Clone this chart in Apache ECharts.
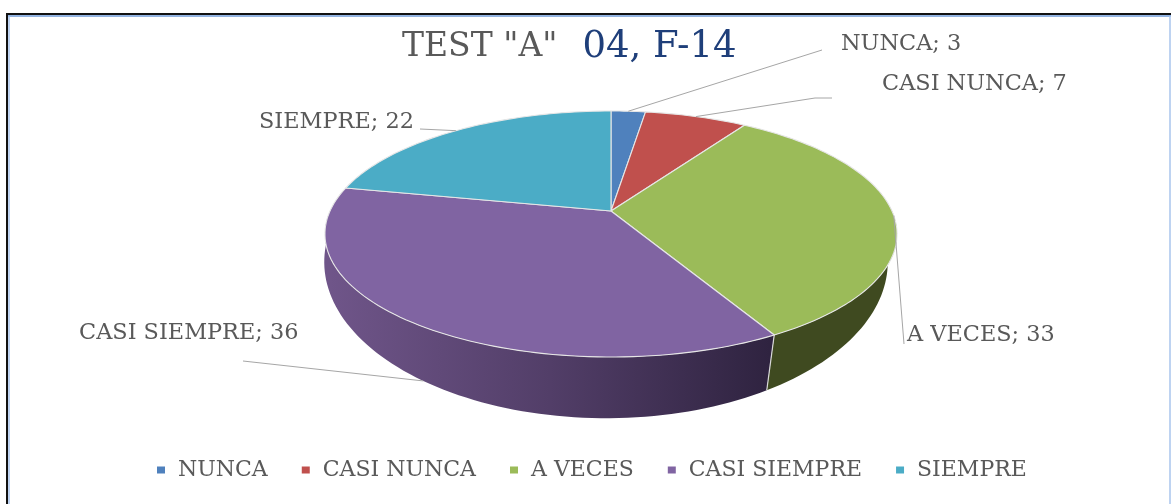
<!DOCTYPE html>
<html><head><meta charset="utf-8">
<style>html,body{margin:0;padding:0;background:#fff}#c{width:1171px;height:504px}</style>
<script src="https://cdn.jsdelivr.net/npm/echarts@6/dist/echarts.min.js"></script>
</head><body><div id="c"></div>
<script>
// Data
const categories = ['NUNCA', 'CASI NUNCA', 'A VECES', 'CASI SIEMPRE', 'SIEMPRE'];
const values = [3, 7, 33, 36, 22];
const titleLeft = 'TEST "A"';
const titleRight = '04, F-14';

// Styles and layout, separate from the data
const topColors = ['#4f81bd', '#c0504d', '#9bbb59', '#8064a2', '#4bacc6'];
const wallColors = [
  '#2e4a6e', '#70302e', '#3f4a20',
  new echarts.graphic.LinearGradient(330, 0, 770, 0, [
    {offset: 0, color: '#6f5589'}, {offset: 0.5, color: '#523e68'}, {offset: 1, color: '#2f2340'}
  ], true),
  '#2c6473'
];
// label: left x, centre y; leader elbows; onBase: leader starts on the lower rim
const labelLayout = [
  {x: 841, y: 44, elbows: [[822, 50]], onBase: false},
  {x: 882, y: 84, elbows: [[815, 98], [832, 98]], onBase: false},
  {x: 907, y: 335, elbows: [[904, 344]], onBase: false},
  {x: 79, y: 333, elbows: [[243, 361]], onBase: true},
  {x: 259, y: 122, elbows: [[420, 129]], onBase: false}
];
const apex = [611, 211], rimB = 281, rimA = 118.7, persp = -0.187;
const topEllipse = {cy: 234}, baseEllipse = {cx: 606, cy: 262, sx: 0.985, sy: 1.27};
const textFont = '"DejaVu Serif"', textColor = '#595959';

const total = values.reduce((a, b) => a + b, 0);
let running = 0;
const sliceData = values.map(v => { const row = [v, running]; running += v; return row; });

// Small view correction for the reference's perspective; leaves the top seam and far-left seam fixed
function view(f) {
  const w = Math.min(1, f / 0.03) * Math.max(0, Math.min(1, (0.78 - f) / 0.2));
  return f - 0.0065 * w;
}
function rim(frac) {
  const t = view(frac) * 2 * Math.PI, u = Math.sin(t), v = -Math.cos(t), d = 1 + persp * v;
  return [apex[0] + rimB * u / d, apex[1] + rimA * v / d];
}
function base(p) {
  return [baseEllipse.cx + (p[0] - apex[0]) * baseEllipse.sx,
          baseEllipse.cy + (p[1] - topEllipse.cy) * baseEllipse.sy];
}
function arc(a, b) {
  const n = Math.max(4, Math.ceil((b - a) * 240)), pts = [];
  for (let i = 0; i <= n; i++) pts.push(rim(a + (b - a) * i / n));
  return pts;
}

function renderWall(params, api) {
  const a0 = api.value(1) / total, b0 = a0 + api.value(0) / total;
  const a = Math.max(a0, 0.25), b = Math.min(b0, 0.75);   // only the front half shows
  if (b <= a) return null;
  const top = arc(a, b), bottom = top.map(base).reverse();
  const start = rim(a);
  return {type: 'group', children: [
    {type: 'polygon', shape: {points: top.concat(bottom)}, style: {fill: wallColors[params.dataIndex]}},
    {type: 'line', shape: {x1: start[0], y1: start[1], x2: base(start)[0], y2: base(start)[1]},
     style: {stroke: '#d9d9d9', lineWidth: 1.2}}
  ]};
}
function renderTop(i) {
  return function (params, api) {
    const a = api.value(1) / total, b = a + api.value(0) / total;
    const midF = (a + b) / 2, lay = labelLayout[i];
    const from = lay.onBase ? base(rim(midF - 0.004)) : rim(midF);
    return {type: 'group', children: [
      {type: 'polygon', shape: {points: [apex].concat(arc(a, b))},
       style: {fill: topColors[i], stroke: '#e6e6e6', lineWidth: 1.1, lineJoin: 'round'}},
      {type: 'polyline', shape: {points: [from].concat(lay.elbows)},
       style: {fill: 'none', stroke: '#a6a6a6', lineWidth: 1}},
      {type: 'text', x: lay.x, y: lay.y,
       style: {text: categories[i] + '; ' + api.value(0), font: '22.4px ' + textFont, fill: textColor,
               textAlign: 'left', textVerticalAlign: 'middle'}}
    ]};
  };
}

const series = [{name: 'walls', type: 'custom', coordinateSystem: 'none', z: 1, silent: true,
                 data: sliceData, renderItem: renderWall}];
categories.forEach((name, i) => series.push({
  name, type: 'custom', coordinateSystem: 'none', z: 3, silent: true,
  itemStyle: {color: topColors[i]}, data: [sliceData[i]], renderItem: renderTop(i)
}));

const chart = echarts.init(document.getElementById('c'), null, {renderer: 'canvas'});
chart.setOption({
  animation: false,
  backgroundColor: '#ffffff',
  title: {
    left: 397, top: 24,
    text: '{a|' + titleLeft + '}{b|' + titleRight + '}',
    textStyle: {fontWeight: 'normal', rich: {
      a: {fontFamily: textFont, fontWeight: 'normal', fontSize: 33, color: '#595959', padding: [0, 25, 0, 0]},
      b: {fontFamily: textFont, fontWeight: 'normal', fontSize: 37, color: '#1f3f7a'}
    }}
  },
  legend: {
    data: categories, left: 152, top: 454, icon: 'rect', itemWidth: 8, itemHeight: 7, itemGap: 34,
    selectedMode: false,
    textStyle: {fontFamily: textFont, fontSize: 22, color: textColor, padding: [0, 0, 0, 8]}
  },
  tooltip: {show: false},
  graphic: [
    {type: 'line', shape: {x1: 7, y1: 14, x2: 1171, y2: 14}, style: {stroke: '#111', lineWidth: 2}, z: 10},
    {type: 'line', shape: {x1: 7, y1: 13, x2: 7, y2: 504}, style: {stroke: '#111', lineWidth: 2}, z: 10},
    {type: 'line', shape: {x1: 8, y1: 16, x2: 1171, y2: 16}, style: {stroke: '#6f9bd8', lineWidth: 1.5}, z: 10},
    {type: 'line', shape: {x1: 9, y1: 16, x2: 9, y2: 504}, style: {stroke: '#a9c4ec', lineWidth: 1.5}, z: 10},
    {type: 'line', shape: {x1: 1170, y1: 16, x2: 1170, y2: 504}, style: {stroke: '#a9c4ec', lineWidth: 1.5}, z: 10}
  ],
  series
});
</script></body></html>
